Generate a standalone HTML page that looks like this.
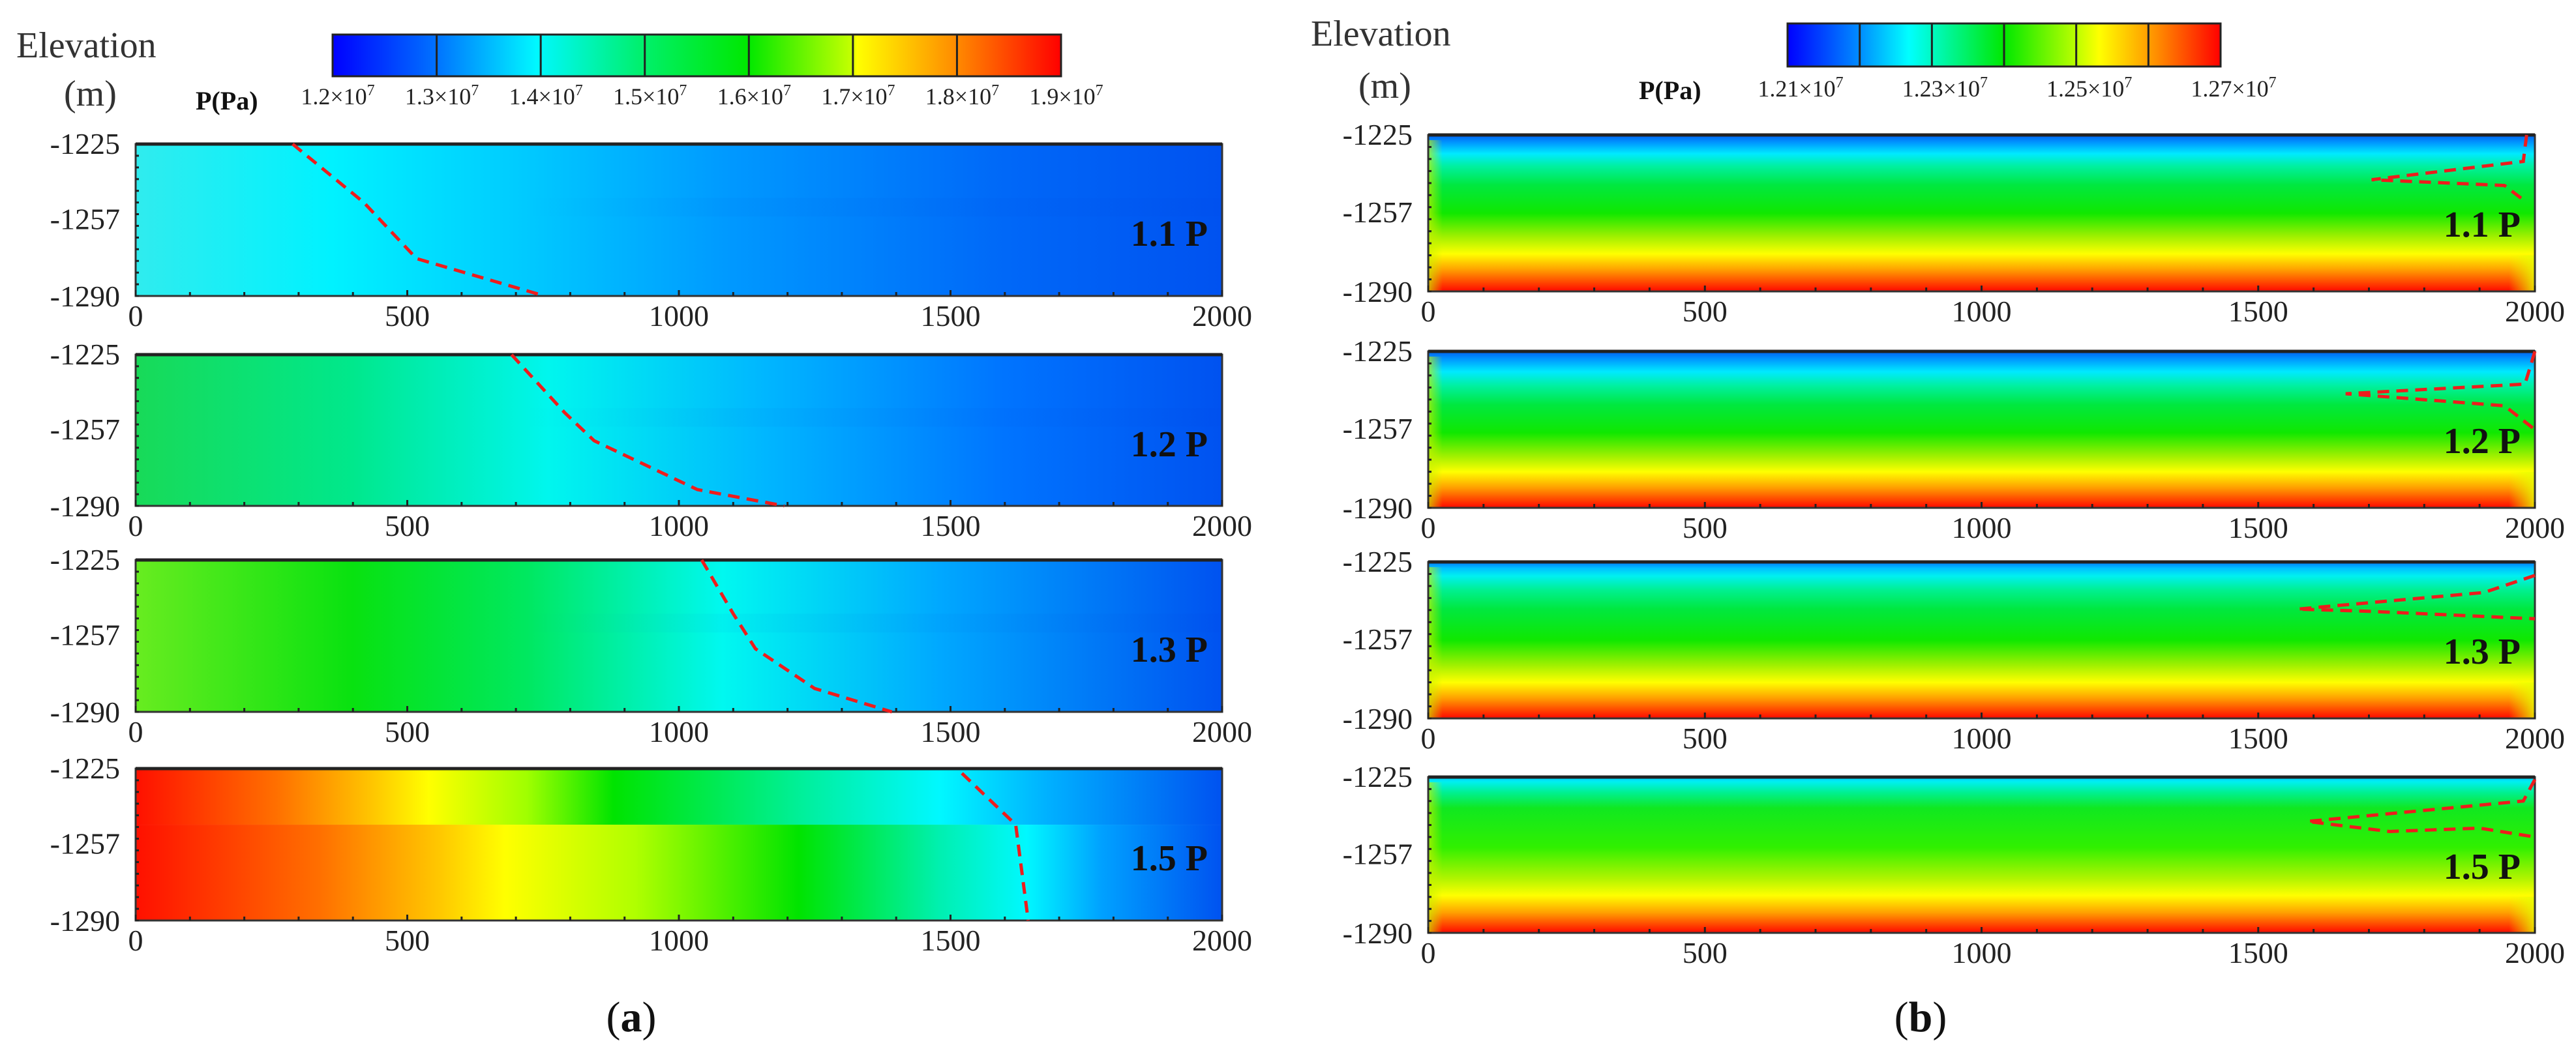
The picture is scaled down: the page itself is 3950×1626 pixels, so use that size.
<!DOCTYPE html>
<html><head><meta charset="utf-8">
<style>
html,body{margin:0;padding:0;background:#fff;}
svg{display:block;font-family:"Liberation Serif",serif;}
</style></head>
<body>
<svg id="fig" width="3950" height="1626" viewBox="0 0 3950 1626" xmlns="http://www.w3.org/2000/svg">
<defs id="defs"></defs>
</svg>
<script>
// ---- data ----
const xTicks = [0, 500, 1000, 1500, 2000];
const yTicks = [-1225, -1257, -1290];
const panelLabels = ["1.1 P", "1.2 P", "1.3 P", "1.5 P"];
const cbarAValues = [1.2, 1.3, 1.4, 1.5, 1.6, 1.7, 1.8, 1.9];
const cbarBValues = [1.21, 1.23, 1.25, 1.27];
const cbarBSegments = 6;
// front lines (x, elevation) per panel
const frontA11 = [[289,-1225],[420,-1250],[517,-1274],[753,-1290]];
const frontA12 = [[692,-1225],[790,-1250],[844,-1262],[1034,-1283],[1194,-1290]];
const frontA13 = [[1042,-1225],[1100,-1248],[1141,-1263],[1250,-1280],[1392,-1290]];
const frontA15 = [[1521,-1227],[1620,-1249],[1643,-1290]];
const frontB11 = [[1985,-1225],[1979,-1236],[1705,-1243.6],[1945,-1246],[1985,-1253]];
const frontB12 = [[2000,-1225],[1982,-1238.6],[1658,-1242.6],[1945,-1247.6],[2000,-1257.5]];
const frontB13 = [[2000,-1230.6],[1908,-1237.7],[1571,-1244.6],[1700,-1245.5],[2000,-1248.6]];
const frontB15 = [[2000,-1226],[1979,-1235],[1589,-1243.5],[1737,-1247.7],[1900,-1246.3],[2000,-1250]];

const NS = "http://www.w3.org/2000/svg";
const svg = document.getElementById('fig');
const defs = document.getElementById('defs');
function mk(tag, attrs, parent){const e=document.createElementNS(NS,tag);for(const k in attrs)e.setAttribute(k,attrs[k]);(parent||svg).appendChild(e);return e;}
function grad(id, stops, vertical){
  const g=mk('linearGradient',{id:id,x1:0,y1:0,x2:vertical?0:1,y2:vertical?1:0},defs);
  stops.forEach(s=>mk('stop',{offset:s[0],'stop-color':s[1]},g));
}
grad('gA11',[[0,'#30ecee'],[0.18,'#00f2ff'],[0.35,'#00ccff'],[0.55,'#0098ff'],[0.8,'#0068f8'],[1,'#0052f0']]);
grad('gA12',[[0,'#18da58'],[0.2,'#00e88c'],[0.38,'#00f6ee'],[0.58,'#00b6ff'],[0.8,'#0074ff'],[1,'#0052f0']]);
grad('gA13',[[0,'#68ec20'],[0.2,'#08e210'],[0.36,'#00e860'],[0.54,'#00f8f0'],[0.74,'#00a8ff'],[1,'#0052f0']]);
grad('gA15t',[[0,'#ff1000'],[0.13,'#ff7000'],[0.22,'#ffc800'],[0.27,'#ffff00'],[0.36,'#a0ff00'],[0.44,'#00e400'],[0.62,'#00f0a0'],[0.74,'#00f8ff'],[0.84,'#00b0ff'],[1,'#0052f0']]);
grad('gA15b',[[0,'#ff1000'],[0.17,'#ff7000'],[0.28,'#ffc800'],[0.34,'#ffff00'],[0.46,'#b0ff00'],[0.61,'#00e400'],[0.74,'#00f0b0'],[0.82,'#00f8ff'],[0.89,'#00a0ff'],[1,'#0052f0']]);
grad('gB11',[[0,'#0060f0'],[0.05,'#0098ff'],[0.12,'#00eaff'],[0.2,'#00f0a0'],[0.32,'#00e840'],[0.5,'#10e800'],[0.65,'#a0f000'],[0.76,'#ffff00'],[0.86,'#ffa000'],[1,'#ff0800']],true);
grad('gB12',[[0,'#0060f0'],[0.05,'#0098ff'],[0.13,'#00eaff'],[0.22,'#00f0a0'],[0.34,'#00e840'],[0.52,'#10e800'],[0.67,'#a0f000'],[0.77,'#ffff00'],[0.87,'#ffa000'],[1,'#ff0800']],true);
grad('gB13',[[0,'#0078f8'],[0.04,'#00c0ff'],[0.09,'#00f0f0'],[0.18,'#00f090'],[0.3,'#00e840'],[0.5,'#10e800'],[0.66,'#a0f000'],[0.77,'#ffff00'],[0.87,'#ffa000'],[1,'#ff0800']],true);
grad('gB15',[[0,'#00c8ff'],[0.03,'#00f0f0'],[0.1,'#00f090'],[0.2,'#10e820'],[0.45,'#30f000'],[0.65,'#b0f400'],[0.76,'#ffff00'],[0.87,'#ffa000'],[1,'#ff0800']],true);
grad('gEdgeR',[[0,'rgba(230,255,0,0)'],[1,'rgba(230,255,0,0.85)']]);
grad('gEdgeL',[[0,'rgba(200,240,0,0.7)'],[1,'rgba(200,240,0,0)']]);
grad('gBand',[[0,'rgba(0,40,200,0)'],[0.3,'rgba(0,40,200,0.035)'],[1,'rgba(0,40,200,0.035)']]);
grad('cbA',[[0,'#0000ff'],[0.14,'#0070ff'],[0.28,'#00f8ff'],[0.42,'#00f070'],[0.57,'#00e800'],[0.71,'#c0ff00'],[0.72,'#ffff00'],[0.85,'#ff9000'],[1,'#ff0000']]);
grad('cbB',[[0,'#0000ff'],[0.17,'#0090ff'],[0.28,'#00ffff'],[0.35,'#00f8b0'],[0.5,'#00e800'],[0.67,'#c0ff00'],[0.72,'#ffff00'],[0.85,'#ff9000'],[1,'#ff0000']]);

const panelsA = [[221,454],[544,776],[859,1092],[1179,1412]];
const panelsB = [[207,447],[539,779],[862,1102],[1192,1431]];
const fillsA = ['gA11','gA12','gA13',null];
const fillsB = ['gB11','gB12','gB13','gB15'];
const frontsA = [frontA11,frontA12,frontA13,frontA15];
const frontsB = [frontB11,frontB12,frontB13,frontB15];

function drawPanel(side, idx, x0, x1, y0, y1, fill, front){
  const g = mk('g',{});
  
  
  const sx = v => x0 + (v - 0) / 2000 * (x1 - x0);
  const sy = e => y0 + (-1225 - e) / 65 * (y1 - y0);
  if (fill) {
    const r = mk('rect',{x:x0,y:y0,width:x1-x0,height:y1-y0,fill:'url(#'+fill+')'},g);
    
    
  } else {
    const ym = sy(-1249);
    const r1 = mk('rect',{x:x0,y:y0,width:x1-x0,height:ym-y0,fill:'url(#gA15t)'},g);
    
    
    const r2 = mk('rect',{x:x0,y:ym,width:x1-x0,height:y1-ym,fill:'url(#gA15b)'},g);
    
    
  }
  if (side==='a' && idx<3) {
    const band = mk('rect',{x:sx(700),y:sy(-1248),width:x1-sx(700),height:sy(-1256)-sy(-1248),fill:'url(#gBand)'},g);
    
    
  }
  if (side==='b') {
    const eL = mk('rect',{x:x0,y:y0+8,width:22,height:y1-y0-8,fill:'url(#gEdgeL)'},g);
    
    
    const eR = mk('rect',{x:x1-40,y:sy(-1275),width:40,height:y1-sy(-1275),fill:'url(#gEdgeR)'},g);
    
    
  }
  const fr = mk('rect',{x:x0,y:y0,width:x1-x0,height:y1-y0,fill:'none',stroke:'#333',"stroke-width":3},g);
  
  
  mk('line',{x1:x0,y1:y0,x2:x1,y2:y0,stroke:'#222','stroke-width':5},g);
  for (let v=0; v<=2000; v+=100){
    const t = mk('line',{x1:sx(v),y1:y1,x2:sx(v),y2:y1-(v%500===0?9:6),stroke:'#222','stroke-width':3},g);
    
    
  }
  for (let e=-1225; e>=-1290; e-=5){
    const t = mk('line',{x1:x0,y1:sy(e),x2:x0+5,y2:sy(e),stroke:'#222','stroke-width':3},g);
    
    
  }
  const pl = mk('polyline',{points:front.map(p=>sx(p[0])+','+sy(p[1])).join(' '),fill:'none',stroke:'#ee1c1c','stroke-width':5,'stroke-dasharray':'18 11'},g);
  
  
  xTicks.forEach(v=>{
    const t = mk('text',{x:sx(v),y:y1+46,'text-anchor':'middle','font-size':46,fill:'#222'},g);
    t.textContent = v;
    
    
  });
  yTicks.forEach(e=>{
    let yy = sy(e)+16;
    if (e===-1225) yy = y0+15;
    if (e===-1290) yy = y1+16;
    const t = mk('text',{x:x0-24,y:yy,'text-anchor':'end','font-size':46,fill:'#222'},g);
    t.textContent = e;
    
    
  });
  const lab = mk('text',{x:x1-22,y:y0+156,'text-anchor':'end','font-size':56,'font-weight':'bold',fill:'#111'},g);
  lab.textContent = panelLabels[idx];
  
  
}
panelsA.forEach((p,i)=>drawPanel('a',i,208,1874,p[0],p[1],fillsA[i],frontsA[i]));
panelsB.forEach((p,i)=>drawPanel('b',i,2190,3887,p[0],p[1],fillsB[i],frontsB[i]));

function colorbar(name, x0, x1, y0, y1, gid, nseg, values, vmin, vmax, labelY, offs){
  const g = mk('g',{});
  
  
  mk('rect',{x:x0,y:y0,width:x1-x0,height:y1-y0,fill:'url(#'+gid+')',stroke:'#222','stroke-width':3},g);
  for (let k=1;k<nseg;k++){
    const xx = x0 + k*(x1-x0)/nseg;
    mk('line',{x1:xx,y1:y0,x2:xx,y2:y1,stroke:'#222','stroke-width':3},g);
  }
  values.forEach(v=>{
    const xx = x0 + (v-vmin)/(vmax-vmin)*(x1-x0) + offs;
    const t = mk('text',{x:xx,y:labelY,'text-anchor':'middle','font-size':36,fill:'#222'},g);
    
    
    t.appendChild(document.createTextNode(v.toFixed(name.endsWith('b')?2:1)+'×10'));
    const s = mk('tspan',{dy:-14,'font-size':24},t);
    s.textContent='7';
  });
}
colorbar('colorbar-a',510,1627,53,117,'cbA',7,cbarAValues,1.2,1.9,160,8);
colorbar('colorbar-b',2741,3405,36,102,'cbB',cbarBSegments,cbarBValues,1.21,1.27,148,20);

function txt(name, x, y, s, size, extra){
  const t = mk('text',Object.assign({x:x,y:y,'font-size':size,fill:'#333'},extra||{}));
  t.textContent = s;
  
  
  return t;
}
txt('y-axis-title-a',25,88,'Elevation',56);
txt('y-axis-unit-a',98,162,'(m)',56);
txt('colorbar-title-a',300,168,'P(Pa)',40,{'font-weight':'bold',fill:'#111'});
txt('y-axis-title-b',2010,70,'Elevation',56);
txt('y-axis-unit-b',2083,150,'(m)',56);
txt('colorbar-title-b',2513,152,'P(Pa)',40,{'font-weight':'bold',fill:'#111'});
const la = txt('subfigure-label-a',968,1582,'',66,{'text-anchor':'middle',fill:'#111'});
la.innerHTML = '(<tspan font-weight="bold">a</tspan>)';
const lb = txt('subfigure-label-b',2945,1582,'',66,{'text-anchor':'middle',fill:'#111'});
lb.innerHTML = '(<tspan font-weight="bold">b</tspan>)';
</script>
</body></html>
